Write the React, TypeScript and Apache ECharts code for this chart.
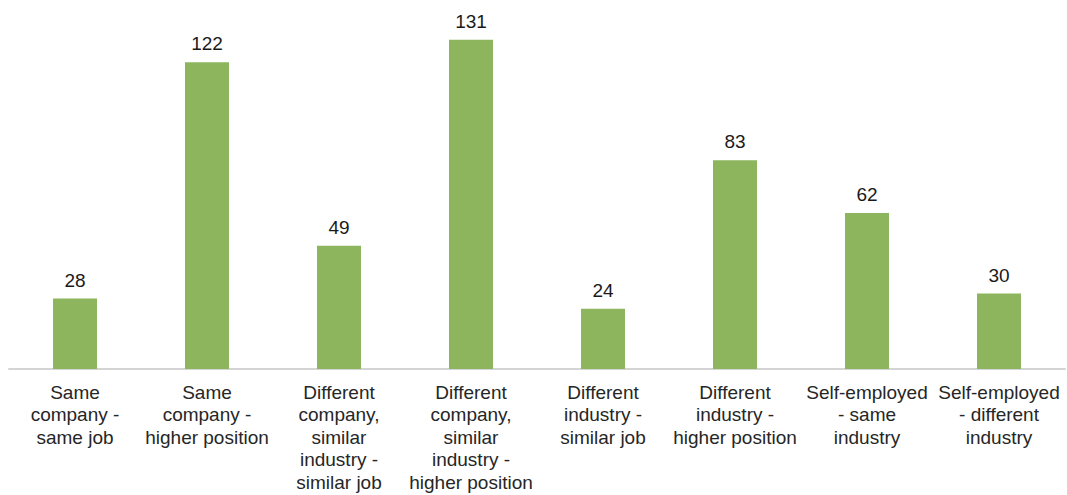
import React, { useEffect, useRef } from "react";
import * as echarts from "echarts";

const categories = [
  "Same\ncompany -\nsame job",
  "Same\ncompany -\nhigher position",
  "Different\ncompany,\nsimilar\nindustry -\nsimilar job",
  "Different\ncompany,\nsimilar\nindustry -\nhigher position",
  "Different\nindustry -\nsimilar job",
  "Different\nindustry -\nhigher position",
  "Self-employed\n- same\nindustry",
  "Self-employed\n- different\nindustry",
];
const values = [28, 122, 49, 131, 24, 83, 62, 30];

export default function App() {
  const ref = useRef<HTMLDivElement>(null);
  useEffect(() => {
    const chart = echarts.init(ref.current!, null, { renderer: "svg" });
    chart.setOption({
      animation: false,
      grid: { left: 9, right: 2, top: 17, bottom: 126, containLabel: false },
      xAxis: {
        type: "category",
        data: categories,
        axisLine: { lineStyle: { color: "#d4d4d4", width: 2 } },
        axisTick: { show: false },
        axisLabel: {
          interval: 0,
          color: "#262626",
          fontFamily: "Liberation Sans, Arial, sans-serif",
          fontSize: 19,
          lineHeight: 22.5,
          margin: 12,
          align: "center",
        },
      },
      yAxis: {
        type: "value",
        min: 0,
        max: 140,
        show: false,
        splitLine: { show: false },
      },
      series: [
        {
          type: "bar",
          data: values,
          barWidth: 44,
          itemStyle: { color: "#8db55d" },
          label: {
            show: true,
            position: "top",
            distance: 9,
            color: "#1a1a1a",
            fontFamily: "Liberation Sans, Arial, sans-serif",
            fontSize: 19,
          },
        },
      ],
    });
    return () => chart.dispose();
  }, []);
  return (
    <div
      ref={ref}
      style={{ position: "fixed", left: 0, top: 0, width: 1067, height: 495, background: "#fff" }}
    />
  );
}
